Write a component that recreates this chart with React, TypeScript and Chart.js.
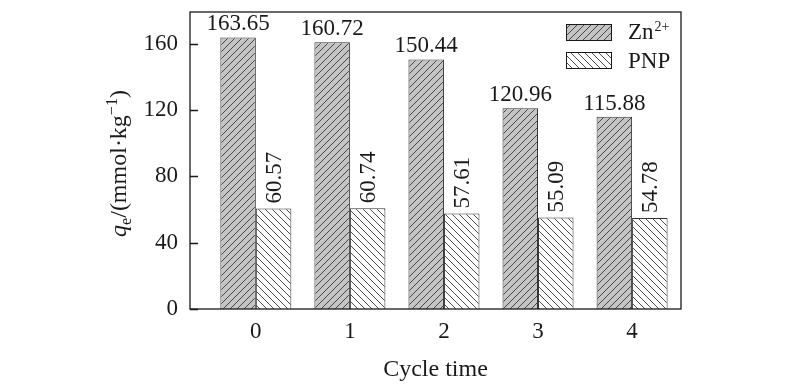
import React, { useEffect, useRef } from "react";
import { Chart, registerables } from "chart.js";
Chart.register(...registerables);

const categories = ["0", "1", "2", "3", "4"];
const znValues = [163.65, 160.72, 150.44, 120.96, 115.88];
const pnpValues = [60.57, 60.74, 57.61, 55.09, 54.78];
const yTicks = [0, 40, 80, 120, 160];
const yMax = 179;
const xMin = -0.7;
const xMax = 4.52;
const xTitle = "Cycle time";
const znLegend = "Zn";
const znSup = "2+";
const pnpLegend = "PNP";

const FONT = '"Liberation Serif", "Times New Roman", serif';
const INK = "#1a1a1a";

function makeHatch(dir: 1 | -1, bg: string): CanvasPattern | string {
  const s = 7;
  const c = document.createElement("canvas");
  c.width = s;
  c.height = s;
  const g = c.getContext("2d");
  if (!g) return bg;
  g.fillStyle = bg;
  g.fillRect(0, 0, s, s);
  g.strokeStyle = "#3a3a3a";
  g.lineWidth = 0.9;
  g.beginPath();
  if (dir === 1) {
    g.moveTo(-1, s + 1);
    g.lineTo(s + 1, -1);
    g.moveTo(-1, 1);
    g.lineTo(1, -1);
    g.moveTo(s - 1, s + 1);
    g.lineTo(s + 1, s - 1);
  } else {
    g.moveTo(-1, -1);
    g.lineTo(s + 1, s + 1);
    g.moveTo(s - 1, -1);
    g.lineTo(s + 1, 1);
    g.moveTo(-1, s - 1);
    g.lineTo(1, s + 1);
  }
  g.stroke();
  const ctx = document.createElement("canvas").getContext("2d");
  return ctx ? (ctx.createPattern(c, "repeat") as CanvasPattern) : bg;
}

export default function App() {
  const ref = useRef<HTMLCanvasElement>(null);
  useEffect(() => {
    if (!ref.current) return;
    const znFill = makeHatch(1, "#c4c4c4");
    const pnpFill = makeHatch(-1, "#ffffff");

    const deco = {
      id: "deco",
      afterDraw(chart: any) {
        const ctx = chart.ctx as CanvasRenderingContext2D;
        const a = chart.chartArea;
        const ys = chart.scales.y;
        ctx.save();
        ctx.strokeStyle = INK;
        ctx.lineWidth = 1.3;
        ctx.strokeRect(a.left, a.top, a.right - a.left, a.bottom - a.top);
        // inward ticks
        ctx.beginPath();
        for (const t of yTicks) {
          const y = Math.round(ys.getPixelForValue(t)) + 0.5;
          ctx.moveTo(a.left, y);
          ctx.lineTo(a.left + 8, y);
        }
        ctx.stroke();

        ctx.fillStyle = INK;
        ctx.font = `23px ${FONT}`;
        // data labels
        const m0 = chart.getDatasetMeta(0);
        const m1 = chart.getDatasetMeta(1);
        m0.data.forEach((el: any, i: number) => {
          ctx.textAlign = "center";
          ctx.textBaseline = "alphabetic";
          ctx.fillText(znValues[i].toFixed(2), el.x, el.y - 7);
        });
        m1.data.forEach((el: any, i: number) => {
          ctx.save();
          ctx.translate(el.x, el.y - 5);
          ctx.rotate(-Math.PI / 2);
          ctx.textAlign = "left";
          ctx.textBaseline = "middle";
          ctx.fillText(pnpValues[i].toFixed(2), 0, 1);
          ctx.restore();
        });

        // x title
        ctx.font = `24px ${FONT}`;
        ctx.textAlign = "center";
        ctx.textBaseline = "alphabetic";
        ctx.fillText(xTitle, (a.left + a.right) / 2, 376);

        // y title
        const segs: { t: string; f: string; dy: number }[] = [
          { t: "q", f: `italic 24px ${FONT}`, dy: 0 },
          { t: "e", f: `16px ${FONT}`, dy: 5 },
          { t: "/(mmol·kg", f: `24px ${FONT}`, dy: 0 },
          { t: "\u22121", f: `16px ${FONT}`, dy: -9 },
          { t: ")", f: `24px ${FONT}`, dy: 0 },
        ];
        let total = 0;
        for (const s of segs) {
          ctx.font = s.f;
          total += ctx.measureText(s.t).width;
        }
        ctx.save();
        ctx.translate(126, (a.top + a.bottom) / 2 + 3);
        ctx.rotate(-Math.PI / 2);
        ctx.textAlign = "left";
        let x = -total / 2;
        for (const s of segs) {
          ctx.font = s.f;
          ctx.fillText(s.t, x, s.dy);
          x += ctx.measureText(s.t).width;
        }
        ctx.restore();

        // legend
        const bx = 566, bw = 45, bh = 16;
        const rows = [
          { fill: znFill, y: 24, label: znLegend, sup: znSup, base: 39 },
          { fill: pnpFill, y: 52, label: pnpLegend, sup: "", base: 68 },
        ];
        for (const r of rows) {
          ctx.fillStyle = r.fill as any;
          ctx.fillRect(bx, r.y, bw, bh);
          ctx.lineWidth = 1;
          ctx.strokeStyle = INK;
          ctx.strokeRect(bx + 0.5, r.y + 0.5, bw, bh);
          ctx.fillStyle = INK;
          ctx.font = `23px ${FONT}`;
          ctx.textAlign = "left";
          ctx.fillText(r.label, 628, r.base);
          if (r.sup) {
            const w = ctx.measureText(r.label).width;
            ctx.font = `14px ${FONT}`;
            ctx.fillText(r.sup, 628 + w + 1, r.base - 8);
          }
        }
        ctx.restore();
      },
    };

    const chart = new Chart(ref.current, {
      type: "bar",
      data: {
        datasets: [
          {
            label: "Zn2+",
            data: znValues.map((v, i) => ({ x: i, y: v })),
            backgroundColor: znFill as any,
            borderColor: "#333333",
            borderWidth: 1,
            categoryPercentage: 0.755,
            barPercentage: 1,
          },
          {
            label: "PNP",
            data: pnpValues.map((v, i) => ({ x: i, y: v })),
            backgroundColor: pnpFill as any,
            borderColor: "#333333",
            borderWidth: 1,
            categoryPercentage: 0.755,
            barPercentage: 1,
          },
        ],
      },
      options: {
        animation: false,
        responsive: true,
        maintainAspectRatio: false,
        layout: { padding: { left: 0, top: 12, right: 119, bottom: 0 } },
        plugins: { legend: { display: false }, tooltip: { enabled: false } },
        scales: {
          x: {
            type: "linear",
            offset: false,
            min: xMin,
            max: xMax,
            grid: { display: false, drawTicks: false, offset: false },
            border: { display: false },
            afterBuildTicks: (s: any) => {
              s.ticks = categories.map((_, i) => ({ value: i }));
            },
            ticks: {
              color: INK,
              font: { family: FONT, size: 23 },
              padding: 9,
              maxRotation: 0,
              autoSkip: false,
              callback: (v: any) => categories[Number(v)] ?? "",
            },
            afterFit: (s: any) => {
              s.height = 77;
              s.paddingLeft = 0;
              s.paddingRight = 0;
            },
          },
          y: {
            min: 0,
            max: yMax,
            grid: { display: false, drawTicks: false },
            border: { display: false },
            afterBuildTicks: (s: any) => {
              s.ticks = yTicks.map((v) => ({ value: v }));
            },
            ticks: {
              color: INK,
              padding: 12,
              font: { family: FONT, size: 23 },
              callback: (v: any) => String(v),
            },
            afterFit: (s: any) => {
              s.width = 190;
              s.paddingTop = 0;
              s.paddingBottom = 0;
            },
          },
        },
      },
      plugins: [deco],
    });
    return () => chart.destroy();
  }, []);

  return (
    <div style={{ position: "absolute", left: 0, top: 0, width: 800, height: 386, background: "#fff" }}>
      <canvas ref={ref} />
    </div>
  );
}
